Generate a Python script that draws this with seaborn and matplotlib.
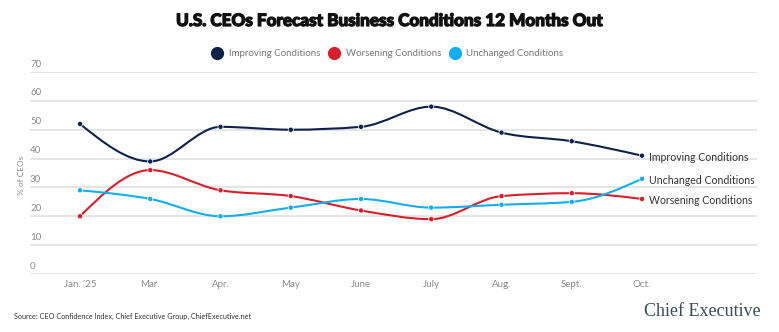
import numpy as np
import pandas as pd
import matplotlib
matplotlib.use("Agg")
import matplotlib.pyplot as plt
from matplotlib.path import Path
from matplotlib.patches import PathPatch
from matplotlib.lines import Line2D
import matplotlib.patheffects as pe
import seaborn as sns

months = ["Jan. '25", "Mar.", "Apr.", "May", "June", "July", "Aug.", "Sept.", "Oct."]
improving = [52, 39, 51, 50, 51, 58, 49, 46, 41]
worsening = [20, 36, 29, 27, 22, 19, 27, 28, 26]
unchanged = [29, 26, 20, 23, 26, 23, 24, 25, 33]
series_names = ["Improving Conditions", "Worsening Conditions", "Unchanged Conditions"]
colors = ["#0d2149", "#d71f2b", "#10aeef"]
y_ticks = [0, 10, 20, 30, 40, 50, 60, 70]

sns.set_theme(style="white")
plt.rcParams["font.family"] = ["Lato", "DejaVu Sans"]

df = pd.DataFrame({
    "month": months * 3,
    "x": list(range(len(months))) * 3,
    "value": improving + worsening + unchanged,
    "series": [series_names[0]] * 9 + [series_names[1]] * 9 + [series_names[2]] * 9,
})

fig = plt.figure(figsize=(7.79, 3.32), dpi=100)
ax = fig.add_axes([30 / 779, 1 - 274 / 332, (757 - 30) / 779, (274 - 72) / 332])

ax.set_xlim(-0.712, 9.637)
ax.set_ylim(0, 70)

for t in y_ticks:
    ax.axhline(t, color="#e3e3e3", lw=1.3, zorder=0)
    ax.text(0.0, t + 1.2, str(t), transform=ax.get_yaxis_transform(), ha="left", va="bottom",
            fontsize=7, color="#8a8a8a")


def monotone_path(xs, ys):
    xs = np.asarray(xs, float)
    ys = np.asarray(ys, float)
    n = len(xs)
    h = np.diff(xs)
    s = np.diff(ys) / h
    t = np.zeros(n)
    for i in range(1, n - 1):
        if s[i - 1] * s[i] <= 0:
            t[i] = 0
        else:
            p = (s[i - 1] * h[i] + s[i] * h[i - 1]) / (h[i - 1] + h[i])
            t[i] = np.sign(s[i - 1]) * min(2 * min(abs(s[i - 1]), abs(s[i])), abs(p))
    t[0] = (3 * s[0] - t[1]) / 2 if n > 2 else s[0]
    t[-1] = (3 * s[-1] - t[-2]) / 2 if n > 2 else s[-1]
    verts = [(xs[0], ys[0])]
    codes = [Path.MOVETO]
    for i in range(n - 1):
        dx = h[i] / 3
        verts += [(xs[i] + dx, ys[i] + dx * t[i]), (xs[i + 1] - dx, ys[i + 1] - dx * t[i + 1]),
                  (xs[i + 1], ys[i + 1])]
        codes += [Path.CURVE4] * 3
    return Path(verts, codes)


for name, col in zip(series_names, colors):
    sub = df[df["series"] == name]
    patch = PathPatch(monotone_path(sub["x"], sub["value"]), facecolor="none", edgecolor=col,
                      lw=1.5, zorder=3)
    ax.add_patch(patch)

sns.scatterplot(data=df, x="x", y="value", hue="series", palette=dict(zip(series_names, colors)),
                s=14, edgecolor="white", linewidth=0.5, legend=False, ax=ax, zorder=4)

# end labels
for name in series_names:
    sub = df[df["series"] == name]
    last = sub.iloc[-1]
    ax.annotate(name, (last["x"], last["value"]), xytext=(5, -1), textcoords="offset points",
                ha="left", va="center", fontsize=7.6, color="#333333")

ax.set_xticks(range(len(months)))
ax.set_xticklabels(months)
ax.set_yticks([])
ax.tick_params(axis="x", length=0, labelsize=7, labelcolor="#8a8a8a", pad=4)
ax.set_xlabel("")
ax.set_ylabel("")
for sp in ax.spines.values():
    sp.set_visible(False)

fig.text(22 / 779, 1 - 175 / 332, "% of CEOs", rotation=90, ha="center", va="center",
         fontsize=6, color="#8a8a8a")

fig.text(390 / 779, 1 - 21 / 332, "U.S. CEOs Forecast Business Conditions 12 Months Out",
         ha="center", va="center", fontsize=12.3, fontweight="black", color="#111111",
         path_effects=[pe.withStroke(linewidth=0.9, foreground="#111111")])

handles = [Line2D([0], [0], marker="o", linestyle="none", markersize=8.5, markerfacecolor=c,
                  markeredgecolor=c) for c in colors]
fig.legend(handles, series_names, loc="center", bbox_to_anchor=(388 / 779, 1 - 54 / 332), ncol=3,
           frameon=False, fontsize=7, labelcolor="#777777", handletextpad=0.7, columnspacing=0.9,
           handlelength=1.0)

fig.text(14 / 779, 1 - 316 / 332, "Source: CEO Confidence Index, Chief Executive Group, ChiefExecutive.net",
         ha="left", va="center", fontsize=5.2, color="#333333")
fig.text(761 / 779, 1 - 312 / 332, "Chief Executive", ha="right", va="center", fontsize=13,
         family=["Liberation Serif", "DejaVu Serif"], color="#3d4a5c")

fig.savefig("out.png", dpi=100, facecolor="white")
